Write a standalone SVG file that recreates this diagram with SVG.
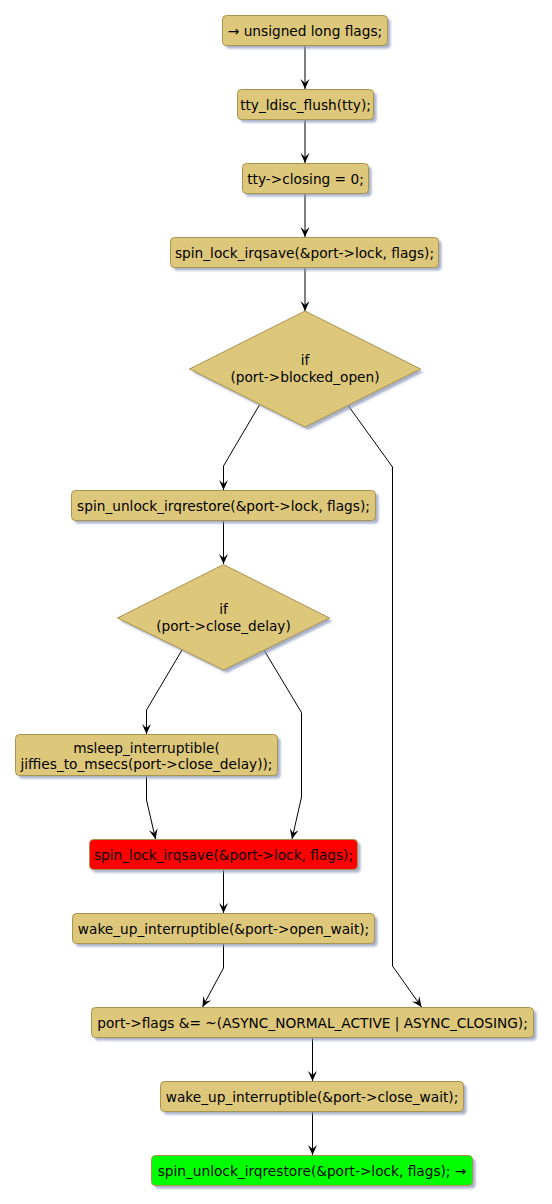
<svg xmlns="http://www.w3.org/2000/svg" width="552" height="1204" viewBox="0 0 552 1204">
<style>
.n{fill:#DDC77B;stroke:#A8944E;stroke-width:1}
.sh{fill:#8C97B8;opacity:0.75;filter:url(#blur)}
.t{font-family:"DejaVu Sans",sans-serif;font-size:13.7px;fill:#000;text-anchor:middle}
.c{fill:none;stroke:#000;stroke-width:1}
</style>
<defs>
<filter id="blur" x="-10%" y="-30%" width="120%" height="160%"><feGaussianBlur stdDeviation="1"/></filter>
<marker id="ah" markerUnits="userSpaceOnUse" markerWidth="12" markerHeight="10" viewBox="-11 -5 12 10" refX="0" refY="0" orient="auto">
<path d="M0,0 L-10,-4.5 L-6,0 L-10,4.5 Z" fill="#000"/>
</marker>
</defs>
<g id="connectors">
<path class="c" d="M305,45.5 V89" marker-end="url(#ah)"/>
<path class="c" d="M305,119.5 V163" marker-end="url(#ah)"/>
<path class="c" d="M305,193.5 V237" marker-end="url(#ah)"/>
<path class="c" d="M305,267.5 V311" marker-end="url(#ah)"/>
<path class="c" d="M260,404 L223.5,466 V490" marker-end="url(#ah)"/>
<path class="c" d="M347,404 L392.5,467 V966 L421.5,1007" marker-end="url(#ah)"/>
<path class="c" d="M223.5,520.5 V564" marker-end="url(#ah)"/>
<path class="c" d="M182,650 L146.5,710 V734" marker-end="url(#ah)"/>
<path class="c" d="M264,650 L301.5,712.5 V797 L292,839" marker-end="url(#ah)"/>
<path class="c" d="M146.5,775.5 V800 L155.5,839" marker-end="url(#ah)"/>
<path class="c" d="M223.5,869.5 V913" marker-end="url(#ah)"/>
<path class="c" d="M223.5,943.5 V968 L202.5,1007" marker-end="url(#ah)"/>
<path class="c" d="M312.5,1037.5 V1081" marker-end="url(#ah)"/>
<path class="c" d="M312.5,1111.5 V1155" marker-end="url(#ah)"/>
</g>
<g id="n1"><rect class="sh" x="225.5" y="18.5" width="165" height="30" rx="4"/><rect class="n" x="222.5" y="15.5" width="165" height="30" rx="4"/><text class="t" x="305" y="35.5">→ unsigned long flags;</text></g>
<g id="n2"><rect class="sh" x="240.5" y="92.5" width="136" height="30" rx="4"/><rect class="n" x="237.5" y="89.5" width="136" height="30" rx="4"/><text class="t" x="305.5" y="109.5">tty_ldisc_flush(tty);</text></g>
<g id="n3"><rect class="sh" x="245.5" y="166.5" width="126" height="30" rx="4"/><rect class="n" x="242.5" y="163.5" width="126" height="30" rx="4"/><text class="t" x="305.5" y="183.5">tty-&gt;closing = 0;</text></g>
<g id="n4"><rect class="sh" x="173.5" y="240.5" width="268" height="30" rx="4"/><rect class="n" x="170.5" y="237.5" width="268" height="30" rx="4"/><text class="t" x="304.5" y="257.5">spin_lock_irqsave(&amp;port-&gt;lock, flags);</text></g>
<g id="d1"><polygon class="sh" points="308,314 423.5,372 308,430 192.5,372"/><polygon class="n" points="305,311 420.5,369 305,427 189.5,369"/><text class="t" x="305" y="365">if</text><text class="t" x="305" y="382">(port-&gt;blocked_open)</text></g>
<g id="n5"><rect class="sh" x="74.5" y="493.5" width="304" height="30" rx="4"/><rect class="n" x="71.5" y="490.5" width="304" height="30" rx="4"/><text class="t" x="223.5" y="510.5">spin_unlock_irqrestore(&amp;port-&gt;lock, flags);</text></g>
<g id="d2"><polygon class="sh" points="226.5,567.5 332.5,621 226.5,673 120.5,621"/><polygon class="n" points="223.5,564.5 329.5,618 223.5,670 117.5,618"/><text class="t" x="223.5" y="614">if</text><text class="t" x="223.5" y="630.5">(port-&gt;close_delay)</text></g>
<g id="n6"><rect class="sh" x="18.5" y="737.5" width="262" height="41" rx="4"/><rect class="n" x="15.5" y="734.5" width="262" height="41" rx="4"/><text class="t" x="146.5" y="752.5">msleep_interruptible(</text><text class="t" x="146.5" y="768.5">jiffies_to_msecs(port-&gt;close_delay));</text></g>
<g id="n7"><rect class="sh" x="92.5" y="842.5" width="268" height="30" rx="4"/><rect class="n" style="fill:#FF0000" x="89.5" y="839.5" width="268" height="30" rx="4"/><text class="t" x="223.5" y="859.5">spin_lock_irqsave(&amp;port-&gt;lock, flags);</text></g>
<g id="n8"><rect class="sh" x="75.5" y="916.5" width="302" height="30" rx="4"/><rect class="n" x="72.5" y="913.5" width="302" height="30" rx="4"/><text class="t" x="223.5" y="933.5">wake_up_interruptible(&amp;port-&gt;open_wait);</text></g>
<g id="n9"><rect class="sh" x="94.5" y="1010.5" width="442" height="30" rx="4"/><rect class="n" x="91.5" y="1007.5" width="442" height="30" rx="4"/><text class="t" x="312.5" y="1027.5">port-&gt;flags &amp;= ~(ASYNC_NORMAL_ACTIVE | ASYNC_CLOSING);</text></g>
<g id="n10"><rect class="sh" x="163.5" y="1084.5" width="303" height="30" rx="4"/><rect class="n" x="160.5" y="1081.5" width="303" height="30" rx="4"/><text class="t" x="312" y="1101.5">wake_up_interruptible(&amp;port-&gt;close_wait);</text></g>
<g id="n11"><rect class="sh" x="154.5" y="1158.5" width="321" height="30" rx="4"/><rect class="n" style="fill:#00FF00" x="151.5" y="1155.5" width="321" height="30" rx="4"/><text class="t" x="312" y="1175.5">spin_unlock_irqrestore(&amp;port-&gt;lock, flags); →</text></g>
</svg>
